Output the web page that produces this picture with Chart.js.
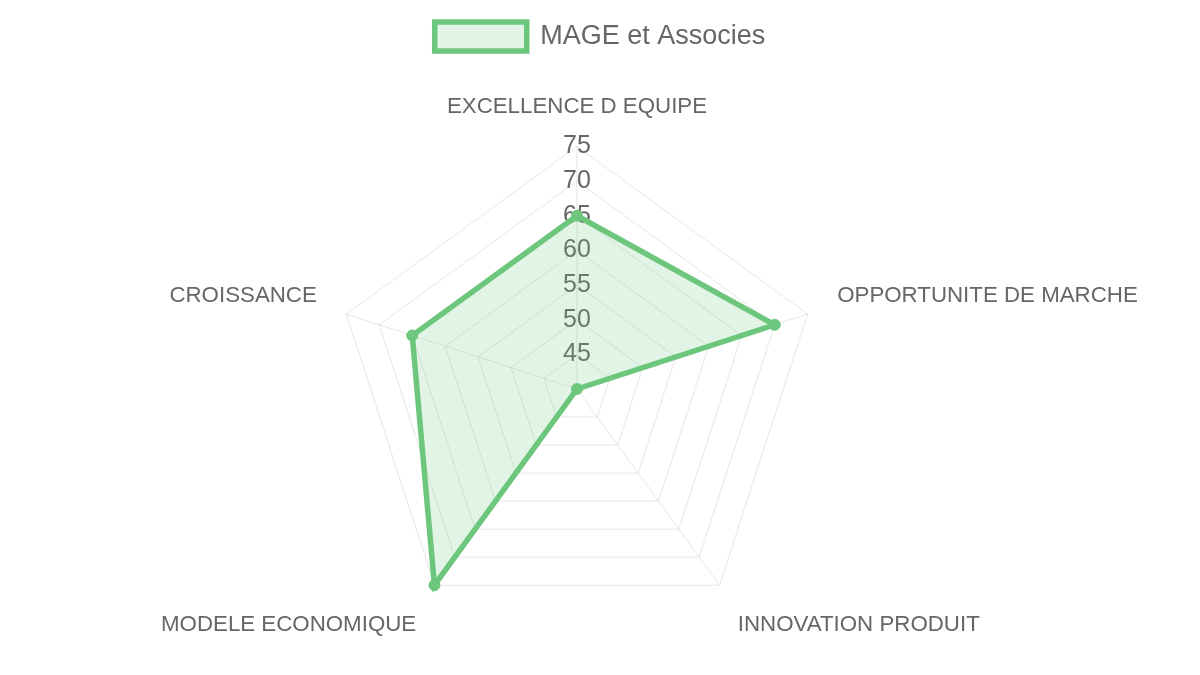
<!DOCTYPE html>
<html>
<head>
<meta charset="utf-8">
<script src="https://cdn.jsdelivr.net/npm/chart.js@4.4.1/dist/chart.umd.min.js"></script>
<style>
  html, body { margin: 0; padding: 0; background: #fff; }
  #wrap { width: 1200px; height: 675px; }
</style>
</head>
<body>
<div id="wrap"><canvas id="radarChart"></canvas></div>
<script>
const categories = ['EXCELLENCE D EQUIPE', 'OPPORTUNITE DE MARCHE', 'INNOVATION PRODUIT', 'MODELE ECONOMIQUE', 'CROISSANCE'];
const seriesName = 'MAGE et Associes';
const scores = [65, 70, 40, 75, 65];
const tickValues = [40, 45, 50, 55, 60, 65, 70, 75];

const green = 'rgb(108,199,124)';
const greenFill = 'rgba(108,199,124,0.2)';

// a bit more room under the legend
const legendSpacer = {
    id: 'legendSpacer',
    beforeInit(chart) {
        const origFit = chart.legend.fit;
        chart.legend.fit = function () {
            origFit.bind(chart.legend)();
            this.height += 10.4;
        };
    }
};

const ctx = document.getElementById('radarChart').getContext('2d');
Chart.defaults.font.family = "'Liberation Sans', Arial, sans-serif";
Chart.defaults.color = '#666';

let radarChart = new Chart(ctx, {
    type: 'radar',
    data: {
        labels: categories,
        datasets: [{
            label: seriesName,
            data: scores,
            borderColor: green,
            backgroundColor: greenFill,
            borderWidth: 5.5,
            pointBackgroundColor: green,
            pointBorderColor: green,
            pointRadius: 5.5,
            pointBorderWidth: 1
        }]
    },
    options: {
        responsive: true,
        maintainAspectRatio: false,
        animation: false,
        layout: { padding: { top: 12, right: 38.5, bottom: -1.6, left: 38.5 } },
        plugins: {
            legend: {
                labels: { font: { size: 27 }, boxWidth: 92, boxHeight: 29 }
            },
            tooltip: { enabled: false }
        },
        scales: {
            r: {
                min: tickValues[0],
                max: tickValues[tickValues.length - 1],
                ticks: {
                    stepSize: tickValues[1] - tickValues[0],
                    font: { size: 25 },
                    showLabelBackdrop: false,
                    color: '#666'
                },
                pointLabels: {
                    // bottom labels sit a little lower
                    font: (c) => ({ size: 22.3, lineHeight: (c.index === 2 || c.index === 3) ? 1.3 : 0.78 }),
                    color: '#666',
                    padding: 16.5
                },
                grid: { color: 'rgba(0,0,0,0.1)' },
                angleLines: { color: 'rgba(0,0,0,0.1)' }
            }
        }
    },
    plugins: [legendSpacer]
});
</script>
</body>
</html>
